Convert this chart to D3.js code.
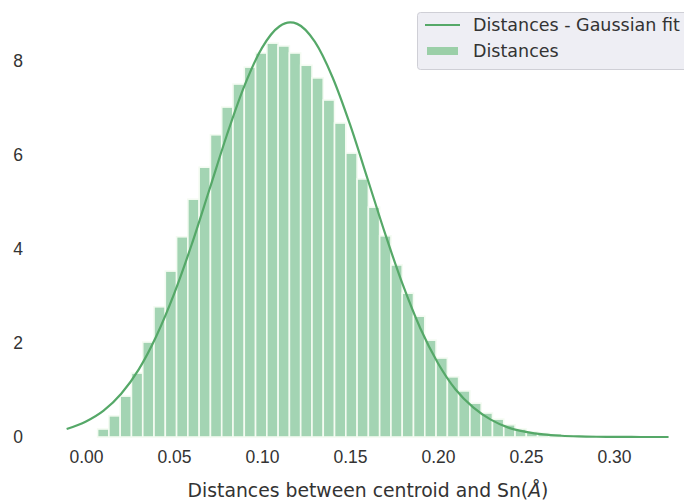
<!DOCTYPE html>
<html>
<head>
<meta charset="utf-8">
<script src="https://cdn.jsdelivr.net/npm/d3@7"></script>
<style>
  body { margin: 0; background: #fff; }
  svg { font-family: "DejaVu Sans", sans-serif; }
</style>
</head>
<body>
<div id="chart"></div>
<script>
// histogram: 50 equal bins starting at binStart
const binStart = 0.0066;
const binWidth = 0.00641;
const binHeights = [
  0.17, 0.45, 0.87, 1.36, 2.02, 2.77, 3.53, 4.26, 5.06, 5.74,
  6.43, 7.02, 7.51, 7.87, 8.17, 8.38, 8.32, 8.17, 7.91, 7.64,
  7.17, 6.68, 6.04, 5.49, 4.89, 4.28, 3.66, 3.06, 2.57, 2.06,
  1.68, 1.28, 0.98, 0.72, 0.51, 0.38, 0.26, 0.17, 0.11, 0.08,
  0.05, 0.03, 0.02, 0.01, 0.01, 0.005, 0.004, 0.002, 0.001, 0.001
];

// gaussian fit curve
const fitX = [
  -0.011, 0.00, 0.01, 0.02, 0.03, 0.04, 0.05, 0.06, 0.07, 0.08, 0.09,
  0.10, 0.11, 0.116, 0.12, 0.13, 0.14, 0.15, 0.16, 0.17, 0.18, 0.19,
  0.20, 0.21, 0.22, 0.23, 0.24, 0.25, 0.26, 0.27, 0.28, 0.29, 0.30,
  0.31, 0.32, 0.331
];
const fitY = [
  0.17, 0.33, 0.56, 0.92, 1.44, 2.15, 3.04, 4.09, 5.25, 6.42, 7.47,
  8.28, 8.74, 8.82, 8.79, 8.41, 7.66, 6.65, 5.49, 4.32, 3.24, 2.31,
  1.57, 1.01, 0.63, 0.37, 0.20, 0.11, 0.055, 0.027, 0.012, 0.005, 0.002,
  0.001, 0, 0
];

const xTicks = [0, 0.05, 0.10, 0.15, 0.20, 0.25, 0.30];
const yTicks = [0, 2, 4, 6, 8];
const legendLabels = ["Distances - Gaussian fit", "Distances"];

const width = 684, height = 502;
const green = "#55a868";
const textColor = "#333333";

const x = d3.scaleLinear().domain([0, 0.30]).range([86, 614]);
const y = d3.scaleLinear().domain([0, 8]).range([437, 61]);

const svg = d3.select("#chart").append("svg")
  .attr("width", width)
  .attr("height", height);

const bins = binHeights.map((h, i) => ({
  x0: binStart + i * binWidth,
  x1: binStart + (i + 1) * binWidth,
  h
}));

// bars
svg.append("g")
  .selectAll("rect")
  .data(bins)
  .join("rect")
  .attr("x", d => x(d.x0))
  .attr("width", d => x(d.x1) - x(d.x0))
  .attr("y", d => y(d.h))
  .attr("height", d => y(0) - y(d.h))
  .attr("fill", "#a3d4b3")
  .attr("stroke", "#f4fbf2")
  .attr("stroke-width", 1.6);

// fit line
const fitPts = fitX.map((v, i) => [v, fitY[i]]);
svg.append("path")
  .datum(fitPts)
  .attr("fill", "none")
  .attr("stroke", green)
  .attr("stroke-width", 2.2)
  .attr("d", d3.line().x(d => x(d[0])).y(d => y(d[1])).curve(d3.curveMonotoneX));

// x axis (labels only, despined)
const xAxis = svg.append("g")
  .attr("transform", `translate(0,${y(0) + 8})`)
  .call(d3.axisBottom(x).tickValues(xTicks).tickFormat(d3.format(".2f")).tickSize(0));
xAxis.select(".domain").remove();
xAxis.selectAll("text")
  .attr("fill", textColor)
  .style("font-size", "17.5px")
  .attr("dy", "0.85em");

const yAxis = svg.append("g")
  .attr("transform", "translate(26,0)")
  .call(d3.axisLeft(y).tickValues(yTicks).tickFormat(d3.format("d")).tickSize(0));
yAxis.select(".domain").remove();
yAxis.selectAll("text")
  .attr("fill", textColor)
  .style("font-size", "17.5px");

// x axis title
const title = svg.append("text")
  .attr("x", 368)
  .attr("y", 497)
  .attr("text-anchor", "middle")
  .attr("fill", textColor)
  .style("font-size", "18.8px");
title.append("tspan").text("Distances between centroid and Sn(");
title.append("tspan").attr("font-style", "italic").text("Å");
title.append("tspan").text(")");

// legend
const legend = svg.append("g").attr("transform", "translate(417,12)");
legend.append("rect")
  .attr("x", 0.5).attr("y", 0.5)
  .attr("width", 290).attr("height", 57)
  .attr("rx", 3)
  .attr("fill", "#eeeef4")
  .attr("stroke", "#cfcfd6");
legend.append("line")
  .attr("x1", 8).attr("x2", 43)
  .attr("y1", 13).attr("y2", 13)
  .attr("stroke", green).attr("stroke-width", 2.2);
legend.append("rect")
  .attr("x", 10).attr("y", 35)
  .attr("width", 31).attr("height", 8)
  .attr("fill", "#9bcfa8");
legend.selectAll("text.lbl")
  .data(legendLabels)
  .join("text")
  .attr("class", "lbl")
  .attr("x", 56)
  .attr("y", (d, i) => 13 + i * 26)
  .attr("dy", "0.35em")
  .attr("fill", textColor)
  .style("font-size", "17.5px")
  .text(d => d);
</script>
</body>
</html>
